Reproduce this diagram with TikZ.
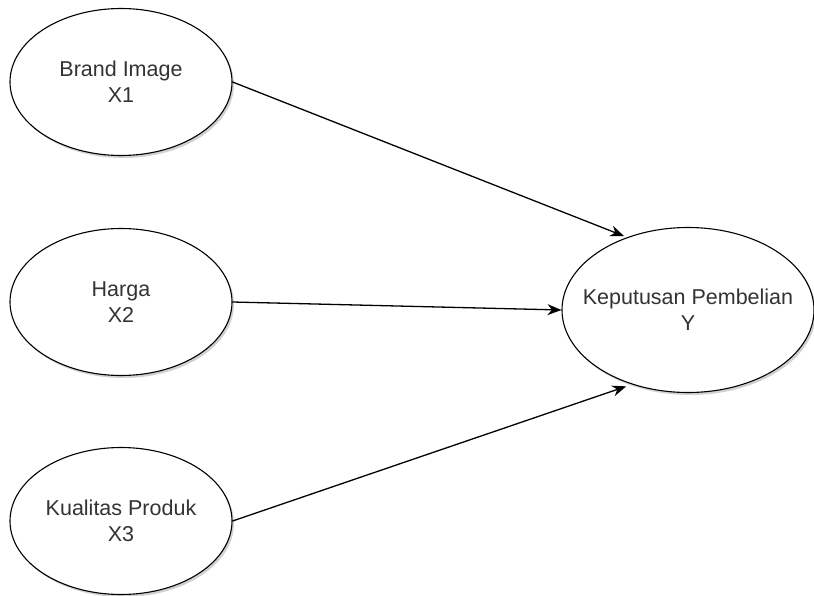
\documentclass[tikz,border=0pt]{standalone}
\usepackage{fontspec}
\setmainfont{Liberation Sans}
\usetikzlibrary{shapes.geometric,arrows.meta,shadows}
\definecolor{txt}{HTML}{333333}
\tikzset{
  ell/.style={ellipse, draw=black, line width=1.1pt, fill=white, inner sep=0pt,
    drop shadow={shadow xshift=2pt, shadow yshift=-2.5pt, opacity=0.18, fill=black}},
  lbl/.style={align=center, text=txt, inner sep=0pt, font=\fontsize{21.5}{26}\selectfont},
  conn/.style={draw=black, line width=1.3pt, -{Stealth[length=14pt,width=11pt]}}
}
\begin{document}
\begin{tikzpicture}[x=1pt,y=-1pt]
\useasboundingbox (0,0) rectangle (814,596);
\node[ell, minimum width=222pt, minimum height=147pt] (x1) at (121,82) {};
\node[lbl] (t1) at (x1) {Brand Image\\X1};
\node[ell, minimum width=222pt, minimum height=147pt] (x2) at (121,302) {};
\node[lbl] (t2) at (x2) {Harga\\X2};
\node[ell, minimum width=222pt, minimum height=147pt] (x3) at (121,521) {};
\node[lbl] (t3) at (x3) {Kualitas Produk\\X3};
\node[ell, minimum width=252pt, minimum height=165pt] (y) at (688,310) {};
\node[lbl] (ty) at (y) {Keputusan Pembelian\\Y};
\draw[conn, shorten >=3pt] (x1.east) -- (y.130);
\draw[conn] (x2.east) -- (y.west);
\draw[conn, shorten >=6pt] (x3.east) -- (y.233);
\end{tikzpicture}
\end{document}
